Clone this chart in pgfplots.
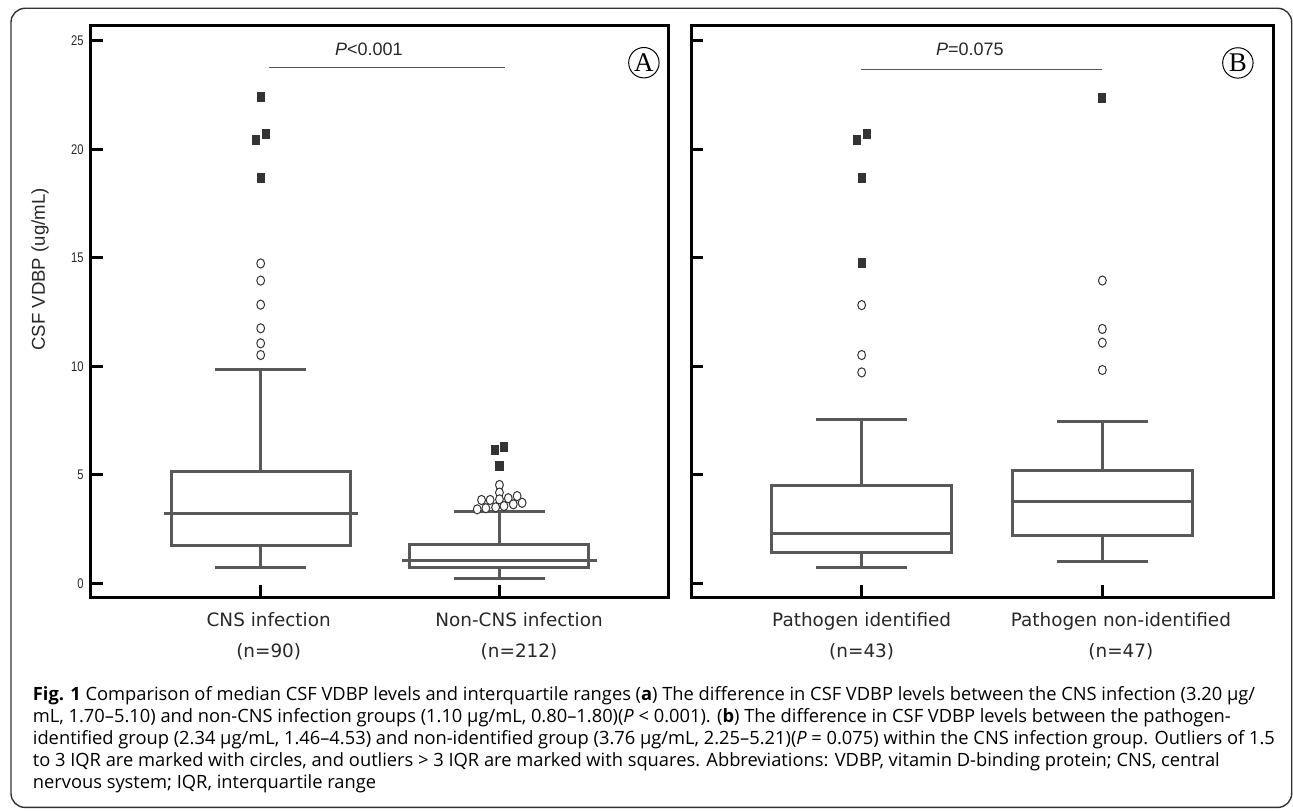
\documentclass[border=0pt]{standalone}
\usepackage{fontspec}
\usepackage{pgfplots}
\pgfplotsset{compat=1.18}
\usepgfplotslibrary{statistics}
\setmainfont{Liberation Sans}
\newfontfamily\capfont{Open Sans}
\newfontfamily\tickfont{Liberation Sans}[FakeStretch=0.8]
\newfontfamily\labfont{DejaVu Sans}
\newfontfamily\serfont{Liberation Serif}
\definecolor{boxgray}{RGB}{88,88,88}
\definecolor{mk}{RGB}{51,51,51}
\definecolor{txt}{RGB}{40,40,40}
\pgfplotsset{
 panel/.style={
  scale only axis, clip=false,
  ymin=-0.631, ymax=25.682,
  axis line style={line width=1.5pt, black},
  tick align=inside, major tick length=6pt,
  tick style={line width=1.5pt, black},
  ytick={0,5,...,25}, ytick pos=left,
  xtick={1,2}, xtick pos=bottom, xticklabels={},
  /pgf/number format/assume math mode=true,
  yticklabel style={font=\tickfont\fontsize{7}{8}\selectfont, text=txt},
  boxplot/draw direction=y,
  boxplot/box extend=0.75, boxplot/whisker extend=0.38,
 },
 bx/.style={draw=boxgray, line width=1.5pt, solid},
 sq/.style={only marks, mark=square*, mark size=2.25pt, mark options={fill=mk, draw=mk, line width=0pt, xscale=0.8}},
 ci/.style={only marks, mark=*, mark size=2.3pt, mark options={fill=white, draw=mk, line width=0.5pt, xscale=0.85}},
}
\tikzset{
 catlab/.style={font=\labfont\fontsize{9.2}{15.5}\selectfont, align=center, text=txt},
 ptext/.style={font=\fontsize{9}{10}\selectfont, text=txt},
 circlet/.style={circle, draw=black, line width=0.5pt, minimum size=15.2pt, inner sep=0pt, font=\serfont\fontsize{13.5}{14}\selectfont},
}
\begin{document}
\begin{tikzpicture}
\useasboundingbox (0,0) rectangle (646.5pt,405pt);
\draw[rounded corners=7pt, line width=0.7pt, black!80] (5.5pt,1.3pt) rectangle (645.85pt,400.85pt);

% Panel A
\begin{axis}[panel,
  at={(45.35pt,106.5pt)}, anchor=south west,
  width=288.65pt, height=285.5pt,
  xmin=0.288, xmax=2.706,
  ylabel={CSF VDBP (ug/mL)},
  ylabel style={at={(axis description cs:-0.0878,0.5736)}, anchor=center, font=\fontsize{9.3}{11}\selectfont, text=txt},
  boxplot/draw/median/.code={\draw[/pgfplots/boxplot/every median/.try] (boxplot box cs:\pgfplotsboxplotvalue{median},-0.042) -- (boxplot box cs:\pgfplotsboxplotvalue{median},1.042);},
]
\addplot[bx, boxplot prepared={draw position=1, lower whisker=0.75, lower quartile=1.73, median=3.24, upper quartile=5.13, upper whisker=9.87}] coordinates {};
\addplot[bx, boxplot prepared={draw position=2, lower whisker=0.2, lower quartile=0.74, median=1.07, upper quartile=1.81, upper whisker=3.3}] coordinates {};
\addplot[ci] coordinates {(1,14.74) (1,13.95) (1,12.84) (1,11.75) (1,11.06) (1,10.52)};
\addplot[sq] coordinates {(1,22.43) (1.021,20.71) (0.980,20.43) (1,18.69)};
\addplot[ci] coordinates {(2,4.53) (2,4.18) (2,3.87) (1.925,3.84) (1.961,3.84) (2.037,3.92) (2.074,4.02) (2.095,3.71) (2.058,3.64) (2.019,3.56) (1.984,3.50) (1.943,3.46) (1.907,3.41)};
\addplot[sq] coordinates {(1.98,6.14) (2.02,6.27) (2,5.42)};
\draw[boxgray, line width=0.65pt] (axis cs:1.033,23.76) -- (axis cs:2.023,23.76);
\node[ptext] at (axis cs:1.453,24.62) {\textit{P}<0.001};
\node[circlet] at (axis cs:2.605,23.99) {A};
\node[catlab] at (axis cs:1.0335,-2.415) {CNS infection\\(n=90)};
\node[catlab] at (axis cs:2.082,-2.415) {Non-CNS infection\\(n=212)};
\end{axis}

% Panel B
\begin{axis}[panel,
  at={(345.5pt,106.5pt)}, anchor=south west,
  width=291pt, height=285.5pt,
  xmin=0.291, xmax=2.709,
  yticklabels={,,,,,},
]
\addplot[bx, boxplot prepared={draw position=1, lower whisker=0.72, lower quartile=1.41, median=2.3, upper quartile=4.5, upper whisker=7.57}] coordinates {};
\addplot[bx, boxplot prepared={draw position=2, lower whisker=1.0, lower quartile=2.21, median=3.76, upper quartile=5.21, upper whisker=7.45}] coordinates {};
\addplot[ci] coordinates {(1,12.82) (1,10.52) (1,9.72)};
\addplot[sq] coordinates {(1.021,20.7) (0.982,20.43) (1,18.66) (1,14.74)};
\addplot[ci] coordinates {(2,13.95) (2,11.72) (2,11.09) (2,9.83)};
\addplot[sq] coordinates {(2,22.38)};
\draw[boxgray, line width=0.65pt] (axis cs:0.997,23.69) -- (axis cs:1.997,23.69);
\node[ptext] at (axis cs:1.45,24.62) {\textit{P}=0.075};
\node[circlet] at (axis cs:2.563,23.98) {B};
\node[catlab] at (axis cs:1.0,-2.415) {Pathogen identified\\(n=43)};
\node[catlab] at (axis cs:2.077,-2.415) {Pathogen non-identified\\(n=47)};
\end{axis}

\node[anchor=base west, align=left, inner sep=0pt, font=\capfont\fontsize{9.15}{11}\selectfont] at (16.25pt,11pt) {%
\textbf{Fig. 1} Comparison of median CSF VDBP levels and interquartile ranges (\textbf{a}) The difference in CSF VDBP levels between the CNS infection (3.20 µg/\\
mL, 1.70–5.10) and non-CNS infection groups (1.10 µg/mL, 0.80–1.80)(\textit{P} < 0.001). (\textbf{b}) The difference in CSF VDBP levels between the pathogen-\\
identified group (2.34 µg/mL, 1.46–4.53) and non-identified group (3.76 µg/mL, 2.25–5.21)(\textit{P} = 0.075) within the CNS infection group. Outliers of 1.5\\
to 3 IQR are marked with circles, and outliers > 3 IQR are marked with squares. Abbreviations: VDBP, vitamin D-binding protein; CNS, central\\
nervous system; IQR, interquartile range};
\end{tikzpicture}
\end{document}
